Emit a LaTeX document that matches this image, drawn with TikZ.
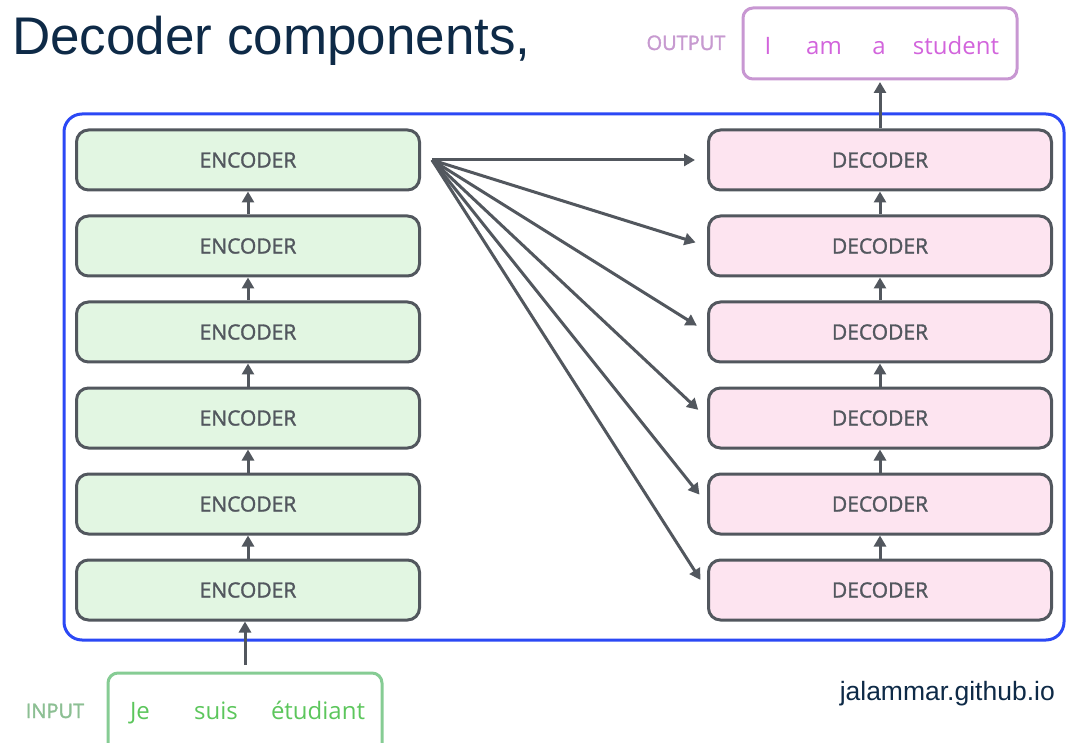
\documentclass[tikz,border=0pt]{standalone}
\usepackage{fontspec}
\setmainfont{Liberation Sans}
\newfontfamily\osans{Open Sans}
\newfontfamily\osansmid[FakeBold=1.5]{Open Sans}
\usetikzlibrary{arrows.meta}
\definecolor{edgegray}{HTML}{52575E}
\definecolor{encfill}{HTML}{E2F6E2}
\definecolor{decfill}{HTML}{FDE4F0}
\definecolor{frameblue}{HTML}{2B48F5}
\definecolor{titlenavy}{HTML}{0E2A47}
\definecolor{outedge}{HTML}{C897D2}
\definecolor{outtext}{HTML}{D264DC}
\definecolor{outlabel}{HTML}{C79AD0}
\definecolor{inedge}{HTML}{86CC94}
\definecolor{intext}{HTML}{5CC65C}
\definecolor{inlabel}{HTML}{8CBF93}
\tikzset{
  layer/.style={draw=edgegray, line width=3pt, rounded corners=12pt,
    minimum width=343pt, minimum height=60pt, inner sep=0pt,
    font=\osansmid\fontsize{21}{24}\selectfont, text=edgegray},
  enc/.style={layer, fill=encfill},
  dec/.style={layer, fill=decfill},
  link/.style={draw=edgegray, line width=3pt,
    -{Triangle[length=11pt,width=12pt]}},
  word/.style={inner sep=0pt, anchor=base, font=\osans\fontsize{24}{28}\selectfont},
  tag/.style={inner sep=0pt, anchor=base, font=\osansmid\fontsize{20}{24}\selectfont}
}
\begin{document}
\begin{tikzpicture}[x=1pt,y=-1pt]
\useasboundingbox (0,0) rectangle (1074,743);
\clip (0,0) rectangle (1074,743);

% title and credit
\node[anchor=base west, inner sep=0pt, text=titlenavy,
  font=\fontsize{53}{60}\selectfont] (title) at (12,55) {Decoder components,};
\node[anchor=base east, inner sep=0pt, text=titlenavy,
  font=\fontsize{26.5}{30}\selectfont] (credit) at (1055,700) {jalammar.github.io};

% outer frame
\draw[frameblue, line width=3pt, rounded corners=18pt] (64,114) rectangle (1064,640);

% encoder and decoder stacks
\foreach \i in {1,...,6} {
  \node[enc] (e\i) at (248,{160+86*(\i-1)}) {ENCODER};
  \node[dec] (d\i) at (880,{160+86*(\i-1)}) {DECODER};
}
\foreach \i/\j in {2/1,3/2,4/3,5/4,6/5} {
  \draw[link] (e\i.north) -- (e\j.south);
  \draw[link] (d\i.north) -- (d\j.south);
}

% encoder output fanned to every decoder
\coordinate (fan) at ([xshift=11pt]e1.east);
\foreach \i in {1,...,6} {
  \draw[link, shorten >=12pt] (fan) -- (d\i.west);
}

% output sentence
\draw[outedge, line width=3pt, rounded corners=10pt] (743,8) rectangle (1017,79);
\coordinate (outbox) at (880,79);
\node[tag, text=outlabel] (outtag) at (686,50) {OUTPUT};
\node[word, text=outtext] (o1) at (768,55) {I};
\node[word, text=outtext] (o2) at (824,55) {am};
\node[word, text=outtext] (o3) at (879,55) {a};
\node[word, text=outtext] (o4) at (956,55) {student};
\draw[link, shorten >=3pt] (d1.north) -- (outbox);

% input sentence
\draw[inedge, line width=3pt, rounded corners=10pt] (108,673) rectangle (382,770);
\coordinate (inbox) at (245,673);
\node[tag, text=inlabel] (intag) at (55,718) {INPUT};
\node[word, text=intext] (i1) at (140,719) {Je};
\node[word, text=intext] (i2) at (216,719) {suis};
\node[word, text=intext] (i3) at (318,719) {étudiant};
\draw[link, shorten <=8pt] (inbox) -- (e6.south -| inbox);
\end{tikzpicture}
\end{document}
